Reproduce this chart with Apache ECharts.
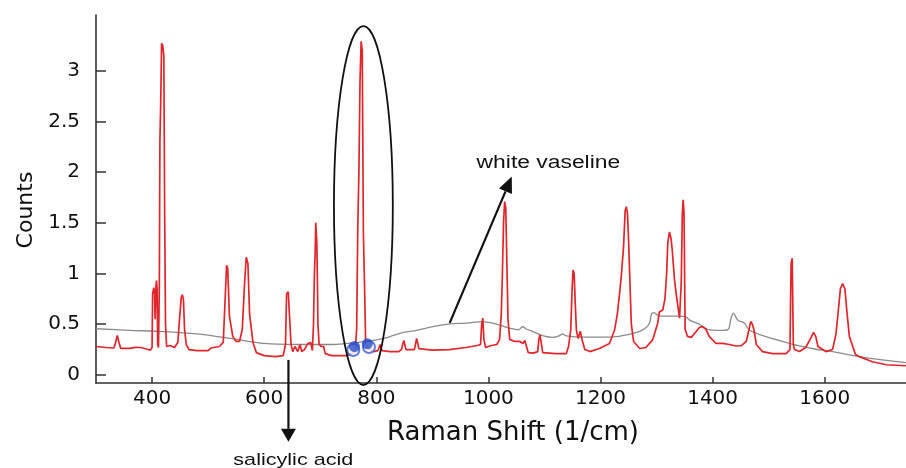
<!DOCTYPE html>
<html><head><meta charset="utf-8">
<script src="https://cdn.jsdelivr.net/npm/echarts@6/dist/echarts.min.js"></script>
<style>html,body{margin:0;padding:0;background:#fff}#c{width:906px;height:468px}</style>
</head><body><div id="c"></div>
<script>
// tick labels
const xTicks = [400, 600, 800, 1000, 1200, 1400, 1600];
const yTicks = [0, 0.5, 1, 1.5, 2, 2.5, 3];

// sample spectrum (red): [Raman shift, counts]
const sampleSpectrum = [
  [300,0.28],[318,0.27],[332,0.265],[335,0.32],[338,0.39],[341,0.32],[344,0.262],[360,0.262],[370,0.272],[380,0.27],
  [390,0.255],[397,0.245],[400,0.27],[401,0.8],[403,0.86],[404.5,0.8],[405.5,0.55],[407,0.88],[408,0.93],[409,0.85],
  [410,0.3],[411.5,0.27],[413,0.9],[414,2.3],[415.5,2.7],[417,3.27],[419,3.25],[421,3.15],[422.5,1.6],[424,0.5],
  [426,0.28],[432,0.29],[440,0.27],[446,0.32],[449,0.55],[452,0.76],[454,0.79],[456,0.74],[458,0.45],[461,0.3],
  [466,0.25],[480,0.24],[500,0.24],[505,0.265],[520,0.28],[527,0.32],[530,0.7],[533,1.08],[535,1.05],[538,0.58],
  [544,0.38],[550,0.33],[556,0.33],[561,0.45],[565,0.9],[568,1.16],[571,1.1],[574,0.6],[580,0.32],[586,0.22],
  [600,0.19],[620,0.18],[634,0.19],[638,0.3],[640,0.8],[643,0.82],[645,0.6],[648,0.3],[651,0.23],[655,0.28],
  [660,0.23],[664,0.3],[667,0.23],[672,0.25],[678,0.31],[683,0.32],[686,0.24],[688,0.5],[689.5,0.97],[691,1.2],
  [692,1.5],[694,1.3],[696,0.5],[698,0.3],[702,0.28],[706,0.28],[709,0.21],[720,0.19],[747,0.19],[755,0.21],
  [762,0.22],[765,0.45],[767,1.45],[769,2.0],[771,2.9],[773,3.29],[775,3.2],[777,1.4],[779,0.9],[781,0.33],
  [785,0.27],[795,0.23],[803,0.24],[807,0.3],[810,0.24],[825,0.23],[840,0.23],[845,0.25],[849,0.34],[853,0.25],
  [868,0.25],[872,0.36],[876,0.26],[900,0.245],[930,0.25],[960,0.27],[980,0.29],[986,0.3],[988,0.5],[990,0.56],
  [992,0.35],[995,0.27],[1005,0.29],[1015,0.3],[1020,0.35],[1023,0.6],[1025,1.0],[1027,1.5],[1029,1.71],[1031,1.65],
  [1033,1.1],[1035,0.55],[1038,0.35],[1047,0.33],[1056,0.33],[1062,0.31],[1065,0.34],[1068,0.28],[1071,0.22],[1080,0.215],
  [1088,0.23],[1090,0.35],[1092,0.395],[1094,0.38],[1097,0.22],[1120,0.21],[1139,0.21],[1143,0.28],[1147,0.45],[1149,0.8],
  [1151,1.035],[1153,1.0],[1155,0.7],[1157,0.44],[1160,0.36],[1164,0.43],[1167,0.35],[1172,0.25],[1181,0.23],[1198,0.26],
  [1216,0.31],[1225,0.44],[1230,0.6],[1234,0.8],[1237,0.97],[1241,1.25],[1244,1.62],[1246,1.66],[1248,1.6],[1250,1.35],
  [1252,1.0],[1255,0.5],[1259,0.33],[1270,0.26],[1281,0.27],[1293,0.345],[1302,0.51],[1305,0.62],[1311,0.64],[1315,0.75],
  [1318,1.0],[1320,1.3],[1323,1.41],[1326,1.34],[1328,1.23],[1332,0.94],[1335,0.8],[1341,0.56],[1344,0.9],[1346,1.6],
  [1347.5,1.726],[1349,1.6],[1351,0.45],[1355,0.38],[1362,0.37],[1371,0.43],[1377,0.47],[1382,0.476],[1388,0.45],[1394,0.38],
  [1406,0.31],[1418,0.31],[1430,0.3],[1442,0.285],[1452,0.29],[1460,0.33],[1465,0.45],[1468,0.526],[1471,0.5],[1474,0.44],
  [1478,0.3],[1489,0.23],[1507,0.21],[1531,0.21],[1538,0.25],[1540,1.1],[1542,1.15],[1544,0.3],[1546,0.25],[1555,0.23],
  [1566,0.27],[1574,0.35],[1580,0.42],[1584,0.38],[1588,0.28],[1602,0.23],[1614,0.25],[1620,0.4],[1624,0.62],[1628,0.85],
  [1632,0.9],[1636,0.85],[1640,0.6],[1644,0.38],[1650,0.28],[1655,0.2],[1662,0.18],[1685,0.13],[1710,0.1],[1745,0.09]
];

// white vaseline spectrum (gray)
const vaselineSpectrum = [
  [300,0.455],[360,0.44],[420,0.427],[480,0.404],[540,0.36],[600,0.31],[660,0.3],[720,0.3],[780,0.33],[813,0.36],
  [842,0.41],[872,0.44],[901,0.476],[931,0.503],[961,0.51],[990,0.526],[1008,0.51],[1026,0.48],[1038,0.46],[1054,0.445],
  [1061,0.475],[1068,0.45],[1080,0.427],[1098,0.385],[1115,0.37],[1126,0.385],[1132,0.405],[1139,0.385],[1169,0.372],[1198,0.372],
  [1228,0.378],[1258,0.41],[1270,0.43],[1282,0.47],[1288,0.52],[1291,0.6],[1295,0.615],[1305,0.58],[1329,0.58],[1341,0.58],
  [1353,0.57],[1359,0.54],[1376,0.5],[1394,0.444],[1418,0.44],[1428,0.45],[1433,0.56],[1437,0.61],[1445,0.54],[1457,0.51],
  [1466,0.44],[1495,0.378],[1525,0.33],[1555,0.286],[1584,0.253],[1614,0.23],[1644,0.197],[1673,0.17],[1703,0.148],[1745,0.12]
];

// blue markers at the highlighted band
const markerDots = [[761, 0.28], [784, 0.306]];
const markerRings = [[759, 0.245], [787, 0.275]];

const FONT = 'DejaVu Sans';
const plain = v => String(v);
const chart = echarts.init(document.getElementById('c'), null, {renderer: 'canvas'});
chart.setOption({
  animation: false,
  backgroundColor: '#fff',
  grid: {left: 96, right: 0, top: 15, bottom: 85, containLabel: false, outerBoundsMode: 'none'},
  xAxis: {
    type: 'value', min: 300, max: 1745,
    name: 'Raman Shift (1/cm)', nameLocation: 'middle', nameGap: 37,
    nameTextStyle: {fontFamily: FONT, fontSize: 26, color: '#111', padding: [0, 0, 0, 24]},
    axisLine: {show: true, onZero: false, lineStyle: {color: '#333', width: 1.6}},
    axisTick: {show: true, inside: true, length: 6, customValues: xTicks, lineStyle: {color: '#333', width: 1.5}},
    axisLabel: {customValues: xTicks, formatter: plain, fontFamily: FONT, fontSize: 20, color: '#111', margin: 6},
    splitLine: {show: false}
  },
  yAxis: {
    type: 'value', min: -0.08, max: 3.55,
    name: 'Counts', nameLocation: 'middle', nameGap: 59,
    nameTextStyle: {fontFamily: FONT, fontSize: 22, color: '#111', padding: [0, 22, 0, 0]},
    axisLine: {show: true, onZero: false, lineStyle: {color: '#333', width: 1.6}},
    axisTick: {show: true, inside: true, length: 10, customValues: yTicks, lineStyle: {color: '#333', width: 1.5}},
    axisLabel: {customValues: yTicks, formatter: plain, fontFamily: FONT, fontSize: 20, color: '#111', margin: 16},
    splitLine: {show: false}
  },
  series: [
    {type: 'line', name: 'white vaseline', data: vaselineSpectrum, symbol: 'none', smooth: 0.3,
     lineStyle: {color: '#8a8a8a', width: 1.3}, z: 2},
    {type: 'line', name: 'sample', data: sampleSpectrum, symbol: 'none',
     lineStyle: {color: '#e0252b', width: 1.7}, z: 3},
    {type: 'scatter', data: markerRings, symbol: 'emptyCircle', symbolSize: 12,
     itemStyle: {color: '#3a5bd0', borderWidth: 2}, z: 4},
    {type: 'scatter', data: markerDots, symbol: 'circle', symbolSize: 11,
     itemStyle: {color: '#2b4cc8'}, z: 5}
  ]
});

const P = (x, y) => chart.convertToPixel({gridIndex: 0}, [x, y]);
function arrow(from, to, headLen, headHalf) {
  const a = P(from[0], from[1]), b = P(to[0], to[1]);
  const dx = b[0] - a[0], dy = b[1] - a[1], L = Math.hypot(dx, dy);
  const ux = dx / L, uy = dy / L;
  const bx = b[0] - ux * headLen, by = b[1] - uy * headLen;
  return [
    {type: 'line', z: 100, shape: {x1: a[0], y1: a[1], x2: bx, y2: by}, style: {stroke: '#111', lineWidth: 2.2}},
    {type: 'polygon', z: 100, shape: {points: [[b[0], b[1]], [bx - uy * headHalf, by + ux * headHalf], [bx + uy * headHalf, by - ux * headHalf]]},
     style: {fill: '#111'}}
  ];
}
const ec = P(777, 1.67);
const erx = P(777 + 52.5, 1.67)[0] - ec[0];
const ery = ec[1] - P(777, 1.67 + 1.77)[1];
const tv = P(979, 2.086);
const ts = P(652, -0.84);
chart.setOption({
  graphic: [
    {type: 'ellipse', z: 100, shape: {cx: ec[0], cy: ec[1], rx: erx, ry: ery}, style: {fill: 'none', stroke: '#111', lineWidth: 1.8}},
    ...arrow([931, 0.513], [1041.7, 1.956], 16, 7),
    ...arrow([643.3, 0.148], [643.3, -0.66], 13, 7.5),
    {type: 'text', z: 100, x: tv[0], y: tv[1], scaleX: 1.27,
     style: {text: 'white vaseline', fontSize: 18, fontFamily: 'Liberation Sans', fill: '#111', align: 'left', verticalAlign: 'middle'}},
    {type: 'text', z: 100, x: ts[0], y: ts[1], scaleX: 1.27,
     style: {text: 'salicylic acid', fontSize: 17, fontFamily: 'Liberation Sans', fill: '#111', align: 'center', verticalAlign: 'middle'}}
  ]
});
</script></body></html>
